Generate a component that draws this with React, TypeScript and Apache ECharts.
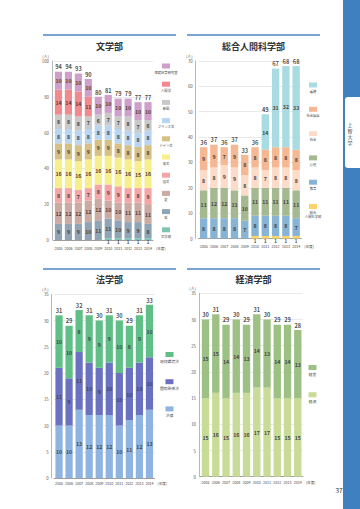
import React, { useEffect, useRef } from "react";
import * as echarts from "echarts";

const years = ["2005", "2006", "2007", "2008", "2009", "2010", "2011", "2012", "2013", "2014"];

// 文学部 (bottom → top)
const litNames = ["文学部", "哲", "史", "国文", "英文", "ドイツ文", "フランス文", "新聞", "人間学", "保健体育研究室"];
const litBungakubu = [0, 0, 0, 0, 0, 1, 1, 1, 1, 1];
const litTetsu = [9, 9, 9, 10, 11, 11, 10, 9, 9, 8];
const litShi = [12, 12, 12, 12, 12, 10, 10, 11, 11, 11];
const litKokubun = [8, 8, 7, 7, 8, 9, 9, 8, 8, 9];
const litEibun = [16, 16, 16, 16, 16, 16, 16, 16, 15, 16];
const litDoitsu = [9, 9, 9, 9, 9, 9, 8, 8, 8, 8];
const litFuransu = [8, 8, 8, 8, 8, 8, 8, 8, 8, 8];
const litShinbun = [8, 8, 8, 7, 6, 7, 7, 8, 7, 6];
const litNingen = [14, 14, 14, 11, 0, 0, 0, 0, 0, 0];
const litHoken = [10, 10, 10, 10, 10, 10, 10, 10, 10, 10];
const litTotals = [94, 94, 93, 90, 80, 81, 79, 79, 77, 77];

// 総合人間科学部 (bottom → top)
const humNames = ["総合人間科学部", "教育", "心理", "社会", "社会福祉", "看護"];
const humSougou = [0, 0, 0, 0, 0, 1, 1, 1, 1, 1];
const humKyouiku = [8, 8, 8, 8, 7, 8, 8, 8, 8, 7];
const humShinri = [11, 12, 12, 11, 10, 11, 11, 11, 11, 11];
const humShakai = [8, 8, 9, 9, 8, 8, 7, 8, 8, 8];
const humFukushi = [9, 9, 7, 9, 8, 8, 8, 8, 8, 8];
const humKango = [0, 0, 0, 0, 0, 0, 14, 31, 32, 33];
const humTotals = [36, 37, 36, 37, 33, 36, 49, 67, 68, 68];

// 法学部 (bottom → top)
const lawNames = ["法律", "国際関係法", "地球環境法"];
const lawHouritsu = [10, 10, 13, 12, 12, 12, 10, 11, 12, 13];
const lawKokusai = [11, 9, 11, 10, 9, 10, 10, 10, 10, 10];
const lawChikyu = [10, 10, 8, 9, 9, 9, 10, 8, 9, 10];
const lawTotals = [31, 29, 32, 31, 30, 31, 30, 29, 31, 33];

// 経済学部 (bottom → top)
const ecoNames = ["経済", "経営"];
const ecoKeizai = [15, 16, 15, 16, 16, 17, 17, 15, 15, 15];
const ecoKeiei = [15, 15, 14, 14, 13, 14, 13, 14, 14, 13];
const ecoTotals = [30, 31, 29, 30, 29, 31, 30, 29, 29, 28];

const titles = ["文学部", "総合人間科学部", "法学部", "経済学部"];
const yMax = [100, 70, 35, 35];
const yInterval = [20, 10, 5, 5];

// styles
const litColors = ["#7fc6b2", "#8fa4b6", "#cbaaa2", "#f6a5a6", "#f7ef8c", "#d7c083", "#b8d5f1", "#c9c9c9", "#f1898e", "#cd9fca"];
const humColors = ["#fbd36a", "#87b4d4", "#a4b98f", "#fcdcc8", "#f6b892", "#a9dbe3"];
const lawColors = ["#90b4e2", "#6b71c1", "#5fbf86"];
const ecoColors = ["#c8db97", "#9dc184"];

const FONT = "'Noto Sans CJK JP', 'Noto Sans', sans-serif";
const GRIDS = [
  { left: 53.5, top: 61, width: 99.5, height: 179 },
  { left: 198.5, top: 61, width: 102.8, height: 177.5 },
  { left: 54, top: 294.3, width: 100.5, height: 183.7 },
  { left: 200.4, top: 293.3, width: 102.5, height: 183.4 },
];
const AXIS_OFFSETS = [1.5, 2.8, 2.3, 1.4];
const XLABEL_MARGIN = [6.2, 6.4, 3.5, 3.5];
const TINY_SERIES = [0, 0, -1, -1];

function makeStack(idx: number, names: string[], data: number[][], colors: string[], totals: number[]) {
  const s: any[] = names.map((n, i) => {
    const tiny = TINY_SERIES[idx] === i;
    return {
      type: "bar",
      name: n,
      xAxisIndex: idx,
      yAxisIndex: idx,
      stack: "s" + idx,
      data: data[i],
      barWidth: "72%",
      itemStyle: { color: colors[i] },
      label: {
        show: true,
        position: tiny ? "bottom" : "inside",
        distance: 0,
        formatter: (p: any) => (p.value ? String(p.value) : ""),
        fontSize: tiny ? 4.4 : 5.2,
        lineHeight: tiny ? 4.6 : 6,
        fontWeight: "bold",
        color: "#444",
        fontFamily: FONT,
      },
    };
  });
  s.push({
    type: "scatter",
    xAxisIndex: idx,
    yAxisIndex: idx,
    data: totals,
    symbolSize: 1,
    itemStyle: { color: "rgba(0,0,0,0)" },
    label: {
      show: true,
      position: "top",
      distance: 1,
      fontSize: 5.6,
      fontWeight: "bold",
      color: "#222",
      fontFamily: FONT,
    },
    z: 5,
  });
  return s;
}

function legendGraphics(
  names: string[],
  colors: string[],
  cx: number,
  cy0: number,
  step: number,
  fontSize: number
) {
  const els: any[] = [];
  const n = names.length;
  for (let k = 0; k < n; k++) {
    const i = n - 1 - k;
    const cy = cy0 + step * k;
    els.push({
      type: "rect",
      shape: { x: cx - 4, y: cy - 2.5, width: 8, height: 5 },
      style: { fill: colors[i] },
    });
    const name = names[i] === "総合人間科学部" ? "総合\n人間科学部" : names[i];
    els.push({
      type: "text",
      x: cx,
      y: cy + 4.3,
      style: {
        text: name,
        align: "center",
        verticalAlign: "top",
        fontSize,
        lineHeight: fontSize + 0.8,
        fill: "#444",
        fontFamily: FONT,
      },
    });
  }
  return els;
}

export default function App() {
  const ref = useRef<HTMLDivElement>(null);
  useEffect(() => {
    if (!ref.current) return;
    const chart = echarts.init(ref.current, undefined, { renderer: "svg" });

    const series = [
      ...makeStack(0, litNames, [litBungakubu, litTetsu, litShi, litKokubun, litEibun, litDoitsu, litFuransu, litShinbun, litNingen, litHoken], litColors, litTotals),
      ...makeStack(1, humNames, [humSougou, humKyouiku, humShinri, humShakai, humFukushi, humKango], humColors, humTotals),
      ...makeStack(2, lawNames, [lawHouritsu, lawKokusai, lawChikyu], lawColors, lawTotals),
      ...makeStack(3, ecoNames, [ecoKeizai, ecoKeiei], ecoColors, ecoTotals),
    ];

    const xAxis = GRIDS.map((_, i) => ({
      type: "category",
      gridIndex: i,
      data: years,
      axisLine: { show: true, lineStyle: { color: "#8a8a8a", width: 0.8 } },
      axisTick: { show: false },
      axisLabel: { fontSize: 3.6, lineHeight: 4, color: "#444", margin: XLABEL_MARGIN[i], fontFamily: FONT, interval: 0 },
      name: "(年度)",
      nameLocation: "end",
      nameGap: 3,
      nameTextStyle: {
        fontSize: 3.6,
        lineHeight: 4,
        color: "#444",
        fontFamily: FONT,
        verticalAlign: "top",
        padding: [XLABEL_MARGIN[i], 0, 0, 0],
      },
    }));

    const yAxis = GRIDS.map((_, i) => ({
      type: "value",
      gridIndex: i,
      min: 0,
      max: yMax[i],
      interval: yInterval[i],
      offset: AXIS_OFFSETS[i],
      axisLine: { show: true, lineStyle: { color: "#9a9a9a", width: 0.7 } },
      axisTick: { show: false },
      axisLabel: { fontSize: 4.3, color: "#555", margin: 3, fontFamily: FONT },
      splitLine: { show: true, lineStyle: { color: "#dcdcdc", width: 0.6 } },
      name: "(人)",
      nameLocation: "end",
      nameGap: 3,
      nameTextStyle: { fontSize: 4, color: "#555", align: "right", padding: [0, 3, 0, 0], fontFamily: FONT },
    }));

    const headerLines = [
      { x1: 43, x2: 176, y: 35 },
      { x1: 187, x2: 320, y: 35 },
      { x1: 43, x2: 176, y: 269 },
      { x1: 187, x2: 320, y: 269 },
    ];
    const titlePos = [
      { x: 109.5, y: 46 },
      { x: 253.5, y: 46 },
      { x: 109.5, y: 279.5 },
      { x: 253.5, y: 279.5 },
    ];

    const graphic: any[] = [
      { type: "rect", shape: { x: 343, y: 0, width: 17, height: 509 }, style: { fill: "#3f80c0" } },
      { type: "rect", shape: { x: 345, y: 97, width: 20, height: 71, r: 3 }, style: { fill: "#ffffff" } },
      ...["上", "智", "大", "学"].map((c, i) => ({
        type: "text",
        x: 350,
        y: 124 + i * 6,
        style: { text: c, align: "center", verticalAlign: "middle", fontSize: 5, fill: "#333", fontFamily: FONT },
      })),
      ...headerLines.map((l) => ({
        type: "line",
        shape: { x1: l.x1, y1: l.y, x2: l.x2, y2: l.y },
        style: { stroke: "#4a86c6", lineWidth: 1.5 },
      })),
      ...titles.map((t, i) => ({
        type: "text",
        x: titlePos[i].x,
        y: titlePos[i].y,
        style: {
          text: t,
          align: "center",
          verticalAlign: "middle",
          fontSize: 9,
          fontWeight: "bold",
          fill: "#333",
          fontFamily: FONT,
        },
      })),
      ...legendGraphics(litNames, litColors, 166, 66, 18.2, 3.3),
      ...legendGraphics(humNames, humColors, 313, 85, 24.3, 3.3),
      ...legendGraphics(lawNames, lawColors, 169.5, 354.5, 27.2, 3.8),
      ...legendGraphics(ecoNames, ecoColors, 312.5, 367.5, 27.2, 3.8),
      {
        type: "text",
        x: 339,
        y: 490,
        style: { text: "37", align: "center", verticalAlign: "middle", fontSize: 6.5, fill: "#333", fontFamily: FONT },
      },
    ];

    chart.setOption({
      animation: false,
      textStyle: { fontFamily: FONT },
      grid: GRIDS.map((g) => ({ ...g, containLabel: false })),
      xAxis,
      yAxis,
      series,
      graphic,
    });
    return () => chart.dispose();
  }, []);

  return (
    <div
      ref={ref}
      style={{ position: "absolute", left: 0, top: 0, width: 360, height: 509, background: "#ffffff" }}
    />
  );
}
